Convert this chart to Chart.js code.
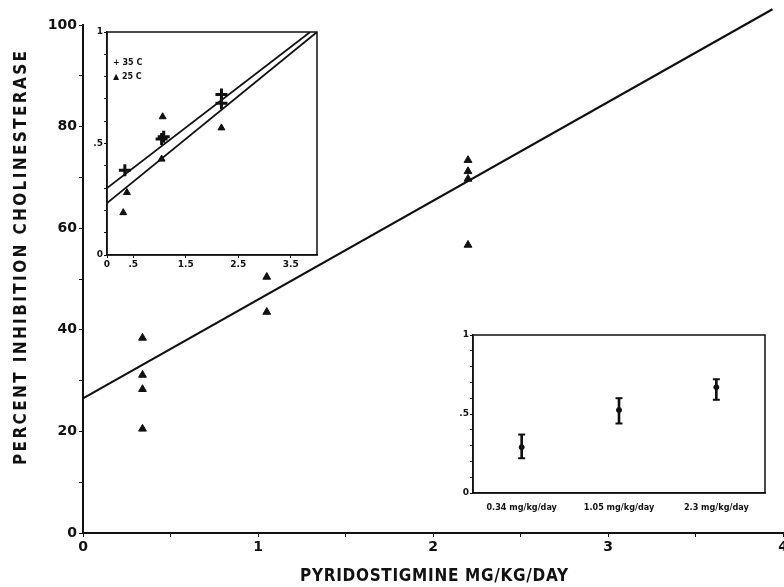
<!DOCTYPE html>
<html>
<head>
<meta charset="utf-8">
<script src="https://cdn.jsdelivr.net/npm/chart.js@4.4.1/dist/chart.umd.min.js"></script>
<style>
  html, body { margin: 0; padding: 0; background: #fff; overflow: hidden; }
  #wrap { position: relative; width: 784px; height: 587px; overflow: hidden; }
  #main-box { position: absolute; left: 0; top: 0; width: 800px; height: 587px; }
  #temp-box { position: absolute; left: 88px; top: 20px; width: 240px; height: 265px; }
  #dose-box { position: absolute; left: 455px; top: 325px; width: 320px; height: 190px; }
</style>
</head>
<body>
<div id="wrap">
  <div id="main-box"><canvas id="main-chart"></canvas></div>
  <div id="temp-box"><canvas id="temp-chart"></canvas></div>
  <div id="dose-box"><canvas id="dose-chart"></canvas></div>
</div>
<script>
/* ── Main plot data (mg/kg/day vs % inhibition) ── */
const doseX   = [0.34, 0.34, 0.34, 0.34, 1.05, 1.05, 2.2, 2.2, 2.2, 2.2];
const inhibY  = [38.4, 31.1, 28.3, 20.5, 50.4, 43.5, 73.4, 71.2, 69.7, 56.7];
const fitX    = [0, 3.94];
const fitY    = [26.5, 103.1];
const xTitle  = 'PYRIDOSTIGMINE MG/KG/DAY';
const yTitle  = 'PERCENT INHIBITION CHOLINESTERASE';

/* ── Upper-left inset: 35 C vs 25 C ── */
const warmX   = [0.34, 1.04, 1.08, 2.18, 2.18];
const warmY   = [0.38, 0.52, 0.53, 0.72, 0.68];
const coolX   = [0.31, 0.38, 1.04, 1.06, 2.18];
const coolY   = [0.19, 0.28, 0.43, 0.62, 0.57];
const warmFitX = [0, 3.87];
const warmFitY = [0.30, 1.0];
const coolFitX = [0, 4];
const coolFitY = [0.233, 1.0];
const insetXTicks  = [0, 0.5, 1.5, 2.5, 3.5];
const insetXLabels = ['0', '.5', '1.5', '2.5', '3.5'];
const legendText   = ['+ 35 C', '\u25B2 25 C'];

/* ── Lower-right inset: mean ± error per dose ── */
const doseLabels = ['0.34 mg/kg/day', '1.05 mg/kg/day', '2.3 mg/kg/day'];
const doseMean   = [0.29, 0.525, 0.67];
const doseLow    = [0.22, 0.44, 0.59];
const doseHigh   = [0.37, 0.60, 0.72];

const INK = '#111';
const TICK_FONT  = { family: 'DejaVu Sans, sans-serif', size: 14, weight: 'bold' };
const SMALL_FONT = { family: 'DejaVu Sans, sans-serif', size: 9, weight: 'bold' };
const TITLE_CSS  = 'bold 17px "Liberation Sans Narrow", "DejaVu Sans Condensed", "Liberation Sans", sans-serif';

const pts = (xs, ys) => xs.map((x, i) => ({ x, y: ys[i] }));
const fracLabel = v => Math.abs(v - 1) < 1e-6 ? '1' : Math.abs(v - 0.5) < 1e-6 ? '.5' : Math.abs(v) < 1e-6 ? '0' : '';

// spaced-out axis titles (the original lettering is wide-tracked)
function spacedText(ctx, text, cx, cy, width) {
  ctx.letterSpacing = '0px';
  const w = ctx.measureText(text).width;
  const gap = Math.max(0, (width - w) / (text.length - 1));
  ctx.letterSpacing = gap + 'px';
  ctx.fillText(text, cx + gap / 2, cy);
}

const axisTitles = {
  id: 'axisTitles',
  afterDraw(chart) {
    const c = chart.ctx;
    c.save();
    c.fillStyle = INK;
    c.font = TITLE_CSS;
    c.textAlign = 'center';
    c.textBaseline = 'middle';
    spacedText(c, xTitle, 434, 577, 268);
    c.translate(22, 258);
    c.rotate(-Math.PI / 2);
    spacedText(c, yTitle, 0, 0, 414);
    c.restore();
  }
};

// frame around an inset's chart area
const boxBorder = {
  id: 'boxBorder',
  afterDatasetsDraw(chart) {
    const a = chart.chartArea, c = chart.ctx;
    c.save();
    c.strokeStyle = INK;
    c.lineWidth = 1.5;
    c.strokeRect(a.left, a.top, a.right - a.left, a.bottom - a.top);
    c.restore();
  }
};

const tempLegend = {
  id: 'tempLegend',
  afterDraw(chart) {
    const a = chart.chartArea, c = chart.ctx;
    c.save();
    c.fillStyle = INK;
    c.font = 'bold 8px DejaVu Sans, sans-serif';
    c.textBaseline = 'middle';
    legendText.forEach((t, i) => c.fillText(t, a.left + 6, a.top + 31 + i * 14));
    c.restore();
  }
};

Chart.defaults.color = INK;
Chart.defaults.animation = false;

/* ── Main chart ── */
new Chart(document.getElementById('main-chart'), {
  type: 'scatter',
  data: {
    datasets: [
      {
        label: 'Inhibition',
        data: pts(doseX, inhibY),
        pointStyle: 'triangle',
        pointRadius: 4.5,
        backgroundColor: INK,
        borderColor: INK
      },
      {
        type: 'line',
        label: 'Fit',
        data: pts(fitX, fitY),
        borderColor: INK,
        borderWidth: 2.2,
        pointRadius: 0,
        clip: false
      }
    ]
  },
  options: {
    responsive: true,
    maintainAspectRatio: false,
    layout: { padding: { top: 25, right: 17, left: 0, bottom: 0 } },
    plugins: { legend: { display: false }, tooltip: { enabled: false } },
    scales: {
      x: {
        type: 'linear', min: 0, max: 4,
        border: { color: INK, width: 2 },
        grid: { drawOnChartArea: false, color: INK, tickLength: 4 },
        ticks: {
          stepSize: 0.5, font: TICK_FONT, padding: 2, maxRotation: 0,
          callback: v => Number.isInteger(v) ? v : ''
        },
        afterFit: s => { s.height = 54; }
      },
      y: {
        min: 0, max: 100,
        border: { color: INK, width: 2 },
        grid: { drawOnChartArea: false, color: INK, tickLength: 4 },
        ticks: {
          stepSize: 10, font: TICK_FONT, padding: 2,
          callback: v => v % 20 === 0 ? v : ''
        },
        afterFit: s => { s.width = 83; }
      }
    }
  },
  plugins: [axisTitles]
});

/* ── Temperature inset ── */
new Chart(document.getElementById('temp-chart'), {
  type: 'scatter',
  data: {
    datasets: [
      { label: '35 C', data: pts(warmX, warmY), pointStyle: 'cross', pointRadius: 6, borderWidth: 3, borderColor: INK, backgroundColor: INK },
      { label: '25 C', data: pts(coolX, coolY), pointStyle: 'triangle', pointRadius: 4, borderColor: INK, backgroundColor: INK },
      { type: 'line', label: '35 C fit', data: pts(warmFitX, warmFitY), borderColor: INK, borderWidth: 1.8, pointRadius: 0 },
      { type: 'line', label: '25 C fit', data: pts(coolFitX, coolFitY), borderColor: INK, borderWidth: 1.8, pointRadius: 0 }
    ]
  },
  options: {
    responsive: true,
    maintainAspectRatio: false,
    layout: { padding: { top: 12, right: 11, left: 0, bottom: 0 } },
    plugins: { legend: { display: false }, tooltip: { enabled: false } },
    scales: {
      x: {
        type: 'linear', min: 0, max: 4,
        border: { color: INK, width: 1.5 },
        grid: { drawOnChartArea: false, color: INK, tickLength: 3 },
        afterBuildTicks: s => { s.ticks = insetXTicks.map(v => ({ value: v })); },
        ticks: { font: SMALL_FONT, padding: 1, maxRotation: 0, autoSkip: false,
          callback: (v, i) => insetXLabels[i] },
        afterFit: s => { s.height = 30; }
      },
      y: {
        min: 0, max: 1,
        border: { color: INK, width: 1.5 },
        grid: { drawOnChartArea: false, color: INK, tickLength: 3 },
        ticks: { stepSize: 0.1, font: SMALL_FONT, padding: 1, autoSkip: false, callback: fracLabel },
        afterFit: s => { s.width = 19; }
      }
    }
  },
  plugins: [boxBorder, tempLegend]
});

/* ── Dose inset ── */
new Chart(document.getElementById('dose-chart'), {
  type: 'bar',
  data: {
    labels: doseLabels,
    datasets: [
      { label: 'range', data: doseLow.map((l, i) => [l, doseHigh[i]]), backgroundColor: INK, barThickness: 2 },
      { type: 'line', label: 'low', data: doseLow, showLine: false, pointStyle: 'line', pointRadius: 3.5, borderWidth: 2, borderColor: INK },
      { type: 'line', label: 'high', data: doseHigh, showLine: false, pointStyle: 'line', pointRadius: 3.5, borderWidth: 2, borderColor: INK },
      { type: 'line', label: 'mean', data: doseMean, showLine: false, pointStyle: 'circle', pointRadius: 2.5, backgroundColor: INK, borderColor: INK }
    ]
  },
  options: {
    responsive: true,
    maintainAspectRatio: false,
    layout: { padding: { top: 10, right: 10, left: 0, bottom: 0 } },
    plugins: { legend: { display: false }, tooltip: { enabled: false } },
    scales: {
      x: {
        offset: true,
        border: { color: INK, width: 1.5 },
        grid: { display: false },
        ticks: { font: { family: 'DejaVu Sans Condensed, DejaVu Sans, sans-serif', size: 9, weight: 'bold' }, padding: 1, maxRotation: 0, autoSkip: false },
        afterFit: s => { s.height = 22; }
      },
      y: {
        min: 0, max: 1,
        border: { color: INK, width: 1.5 },
        grid: { drawOnChartArea: false, color: INK, tickLength: 3 },
        ticks: { stepSize: 0.1, font: SMALL_FONT, padding: 1, autoSkip: false, callback: fracLabel },
        afterFit: s => { s.width = 18; }
      }
    }
  },
  plugins: [boxBorder]
});
</script>
</body>
</html>
